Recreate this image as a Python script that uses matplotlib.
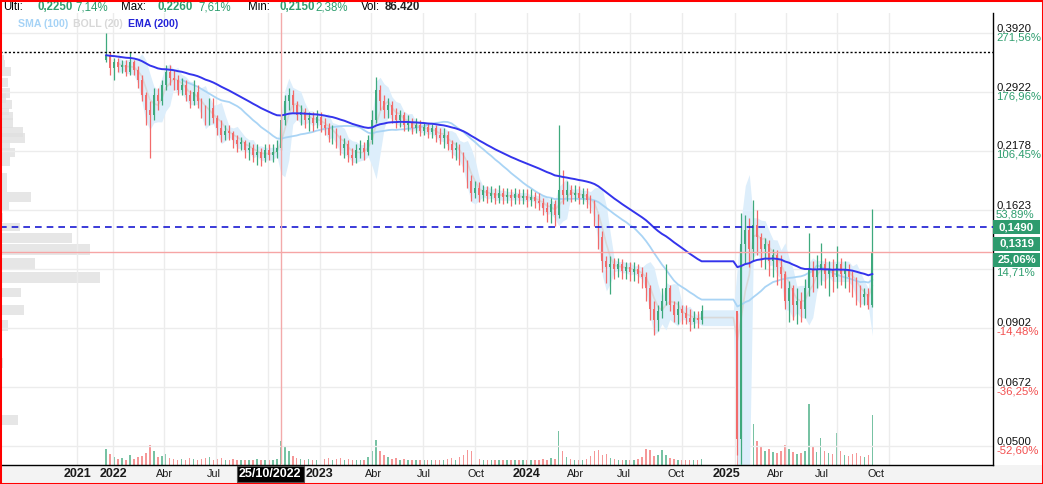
import numpy as np
import pandas as pd
import matplotlib
matplotlib.use("Agg")
import matplotlib.pyplot as plt
import matplotlib.dates as mdates
import matplotlib.transforms as mtransforms
from matplotlib.patches import Rectangle
from matplotlib.ticker import NullLocator

plt.rcParams['font.family'] = ['Liberation Sans', 'DejaVu Sans']

# ---------------- data (weekly) ----------------
first_week = "2021-12-20"
first_open = 0.343

close = [
    0.351, 0.329, 0.339, 0.331, 0.334, 0.323, 0.339, 0.326, 0.310, 0.288,
    0.267, 0.260, 0.288, 0.280, 0.303, 0.323, 0.313, 0.310, 0.295, 0.303,
    0.288, 0.280, 0.292, 0.280, 0.264, 0.254, 0.270, 0.257, 0.244, 0.236,
    0.241, 0.238, 0.230, 0.225, 0.228, 0.219, 0.221, 0.214, 0.217, 0.210,
    0.219, 0.214, 0.217, 0.221, 0.254, 0.280, 0.288, 0.274, 0.260, 0.264,
    0.254, 0.257, 0.251, 0.258, 0.248, 0.244, 0.236, 0.241, 0.228, 0.221,
    0.225, 0.214, 0.210, 0.219, 0.221, 0.217, 0.230, 0.254, 0.295, 0.280,
    0.267, 0.274, 0.260, 0.254, 0.260, 0.248, 0.251, 0.244, 0.248, 0.241,
    0.245, 0.239, 0.244, 0.236, 0.232, 0.236, 0.225, 0.219, 0.221, 0.210,
    0.203, 0.188, 0.177, 0.181, 0.175, 0.179, 0.174, 0.177, 0.172, 0.177,
    0.173, 0.175, 0.172, 0.176, 0.172, 0.174, 0.171, 0.173, 0.170, 0.168,
    0.164, 0.161, 0.167, 0.158, 0.179, 0.175, 0.179, 0.175, 0.177, 0.172,
    0.176, 0.171, 0.167, 0.158, 0.142, 0.126, 0.122, 0.124, 0.121, 0.124,
    0.120, 0.122, 0.119, 0.121, 0.118, 0.116, 0.110, 0.099, 0.094, 0.098,
    0.103, 0.110, 0.101, 0.096, 0.099, 0.097, 0.095, 0.093, 0.095, 0.094,
    0.098,
    None, None, None, None, None, None, None, None,
    0.052, 0.137, 0.147, 0.134, 0.151, 0.142, 0.134, 0.137, 0.126, 0.130,
    0.122, 0.118, 0.103, 0.110, 0.101, 0.103, 0.099, 0.110, 0.121, 0.116,
    0.121, 0.124, 0.118, 0.121, 0.116, 0.124, 0.118, 0.121, 0.116, 0.113,
    0.107, 0.105, 0.107, 0.101, 0.132,
]
high = [
    0.392, 0.357, 0.346, 0.346, 0.343, 0.343, 0.357, 0.343, 0.333, 0.318,
    0.292, 0.280, 0.298, 0.298, 0.310, 0.334, 0.334, 0.326, 0.318, 0.313,
    0.310, 0.295, 0.310, 0.303, 0.284, 0.274, 0.284, 0.284, 0.260, 0.254,
    0.248, 0.248, 0.241, 0.236, 0.234, 0.230, 0.228, 0.225, 0.225, 0.221,
    0.225, 0.225, 0.225, 0.230, 0.260, 0.288, 0.298, 0.295, 0.280, 0.274,
    0.270, 0.264, 0.264, 0.267, 0.264, 0.257, 0.251, 0.248, 0.244, 0.236,
    0.232, 0.230, 0.221, 0.225, 0.230, 0.228, 0.236, 0.267, 0.315, 0.303,
    0.288, 0.284, 0.280, 0.270, 0.267, 0.264, 0.260, 0.257, 0.257, 0.254,
    0.251, 0.251, 0.249, 0.248, 0.244, 0.244, 0.241, 0.230, 0.228, 0.225,
    0.217, 0.208, 0.193, 0.188, 0.187, 0.184, 0.183, 0.183, 0.181, 0.184,
    0.181, 0.181, 0.180, 0.181, 0.180, 0.180, 0.180, 0.180, 0.178, 0.177,
    0.172, 0.169, 0.172, 0.171, 0.248, 0.198, 0.188, 0.184, 0.184, 0.183,
    0.181, 0.181, 0.175, 0.171, 0.159, 0.146, 0.129, 0.129, 0.128, 0.128,
    0.127, 0.125, 0.125, 0.125, 0.124, 0.122, 0.119, 0.112, 0.103, 0.101,
    0.110, 0.124, 0.112, 0.103, 0.103, 0.101, 0.101, 0.099, 0.098, 0.098,
    0.101,
    None, None, None, None, None, None, None, None,
    0.097, 0.160, 0.158, 0.156, 0.171, 0.162, 0.145, 0.141, 0.140, 0.134,
    0.133, 0.130, 0.120, 0.114, 0.112, 0.110, 0.108, 0.115, 0.145, 0.126,
    0.130, 0.138, 0.128, 0.126, 0.127, 0.136, 0.128, 0.126, 0.124, 0.120,
    0.116, 0.112, 0.110, 0.110, 0.163,
]
low = [
    0.339, 0.318, 0.310, 0.323, 0.321, 0.316, 0.318, 0.318, 0.298, 0.280,
    0.248, 0.210, 0.254, 0.267, 0.274, 0.295, 0.303, 0.295, 0.288, 0.288,
    0.280, 0.270, 0.274, 0.270, 0.257, 0.248, 0.248, 0.251, 0.236, 0.228,
    0.230, 0.230, 0.221, 0.217, 0.219, 0.210, 0.208, 0.206, 0.203, 0.202,
    0.206, 0.208, 0.206, 0.210, 0.219, 0.248, 0.267, 0.264, 0.254, 0.248,
    0.244, 0.241, 0.241, 0.244, 0.239, 0.236, 0.228, 0.225, 0.221, 0.214,
    0.210, 0.206, 0.203, 0.205, 0.210, 0.208, 0.214, 0.225, 0.251, 0.267,
    0.257, 0.257, 0.251, 0.244, 0.246, 0.241, 0.241, 0.237, 0.238, 0.235,
    0.236, 0.232, 0.232, 0.228, 0.225, 0.221, 0.219, 0.210, 0.208, 0.203,
    0.196, 0.181, 0.170, 0.172, 0.169, 0.170, 0.168, 0.169, 0.167, 0.168,
    0.167, 0.168, 0.166, 0.167, 0.167, 0.167, 0.165, 0.166, 0.164, 0.162,
    0.158, 0.153, 0.152, 0.150, 0.156, 0.167, 0.170, 0.169, 0.170, 0.167,
    0.167, 0.164, 0.160, 0.150, 0.134, 0.119, 0.113, 0.107, 0.115, 0.116,
    0.115, 0.115, 0.114, 0.114, 0.113, 0.110, 0.103, 0.094, 0.087, 0.089,
    0.095, 0.101, 0.098, 0.093, 0.092, 0.092, 0.092, 0.089, 0.090, 0.090,
    0.092,
    None, None, None, None, None, None, None, None,
    0.048, 0.044, 0.124, 0.122, 0.126, 0.130, 0.122, 0.121, 0.117, 0.116,
    0.112, 0.110, 0.099, 0.093, 0.094, 0.092, 0.093, 0.095, 0.106, 0.108,
    0.110, 0.112, 0.110, 0.106, 0.108, 0.110, 0.112, 0.110, 0.108, 0.105,
    0.101, 0.100, 0.101, 0.099, 0.100,
]
volume = [  # thousands of shares per week
    180, 120, 90, 70, 80, 60, 110, 70, 90, 100,
    130, 220, 150, 90, 100, 120, 80, 70, 60, 70,
    60, 80, 70, 60, 70, 80, 90, 60, 70, 80,
    50, 60, 70, 60, 50, 60, 50, 60, 70, 60,
    50, 60, 50, 70, 260, 200, 150, 100, 80, 70,
    60, 70, 60, 50, 60, 70, 80, 60, 70, 80,
    60, 70, 60, 60, 50, 60, 90, 160, 280, 150,
    110, 90, 70, 80, 60, 70, 60, 60, 50, 60,
    50, 60, 50, 60, 60, 50, 70, 80, 60, 90,
    110, 170, 150, 90, 70, 60, 60, 50, 60, 50,
    50, 60, 50, 60, 50, 50, 60, 50, 50, 60,
    70, 60, 80, 70, 380, 150, 90, 70, 60, 60,
    60, 70, 100, 160, 170, 110, 120, 80, 70, 60,
    60, 60, 50, 60, 70, 90, 180, 170, 100, 110,
    170, 110, 80, 70, 60, 60, 50, 60, 60, 60,
    70,
    0, 0, 0, 0, 0, 0, 0, 0,
    1100, 1350, 700, 420, 450, 260, 200, 150, 180, 140,
    130, 150, 220, 180, 140, 120, 130, 160, 680, 200,
    140, 300, 150, 130, 120, 350, 150, 110, 100, 120,
    130, 100, 90, 110, 550,
]

# volume-at-price profile (left side)
profile_low = [0.343, 0.331, 0.316, 0.299, 0.284, 0.277, 0.268, 0.261, 0.254, 0.244,
               0.234, 0.227, 0.219, 0.211, 0.202, 0.186, 0.178, 0.169, 0.162, 0.153,
               0.146, 0.138, 0.130, 0.121, 0.113, 0.105, 0.096, 0.089, 0.074, 0.0557]
profile_high = [0.351, 0.343, 0.331, 0.314, 0.298, 0.292, 0.281, 0.270, 0.264, 0.257,
                0.246, 0.238, 0.230, 0.221, 0.211, 0.195, 0.186, 0.178, 0.169, 0.160,
                0.152, 0.145, 0.137, 0.128, 0.119, 0.110, 0.101, 0.094, 0.0775, 0.0585]
profile_vol = [4, 5, 11, 8, 10, 6, 12, 9, 13, 13,
               23, 25, 10, 15, 10, 7, 7, 31, 9, 3,
               20, 72, 90, 35, 100, 21, 24, 8, 3, 18]

y_ticks = [0.0500, 0.0672, 0.0902, 0.1210, 0.1623, 0.2178, 0.2922, 0.3920]
y_tick_text = ["0,0500", "0,0672", "0,0902", "", "0,1623", "0,2178", "0,2922", "0,3920"]
pct_text = ["-52,60%", "-36,25%", "-14,48%", "14,71%", "53,89%", "106,45%", "176,96%", "271,56%"]

dotted_level = 0.357
alert_level = 0.1490
alert_text = "0,1490"
last_level = 0.1319
last_text = "0,1319"
last_pct = "25,06%"

crosshair_date = "2022-10-25"
crosshair_text = "25/10/2022"
crosshair_label_date = "2022-10-05"

grid_dates = ["2021-10-29", "2022-01-01", "2022-04-01", "2022-07-01", "2022-10-01",
              "2023-01-01", "2023-04-01", "2023-07-01", "2023-10-01",
              "2024-01-01", "2024-04-01", "2024-07-01", "2024-10-01",
              "2025-01-01", "2025-04-01", "2025-07-01", "2025-10-01"]
x_label_text = ["2021", "2022", "Abr", "Jul", "2023", "Abr", "Jul", "Oct",
                "2024", "Abr", "Jul", "Oct", "2025", "Abr", "Jul", "Oct"]
x_label_date = ["2021-10-31", "2022-01-01", "2022-04-01", "2022-06-28",
                "2023-01-01", "2023-04-06", "2023-07-03", "2023-10-03",
                "2024-01-01", "2024-03-27", "2024-06-20", "2024-09-20",
                "2024-12-17", "2025-03-15", "2025-06-04", "2025-09-07"]

header_items = [("Ulti:", "black", "normal"), ("0,2250", "#2f9e6f", "bold"), ("7,14%", "#2f9e6f", "normal"),
                ("Max:", "black", "normal"), ("0,2260", "#2f9e6f", "bold"), ("7,61%", "#2f9e6f", "normal"),
                ("Min:", "black", "normal"), ("0,2150", "#2f9e6f", "bold"), ("2,38%", "#2f9e6f", "normal"),
                ("Vol:", "black", "normal"), ("86.420", "#222222", "bold")]
header_x = [3, 38, 75, 121, 157, 198, 248, 280, 315, 361, 385]

legend_items = [("SMA (100)", "#a6d3f6"), ("BOLL (20)", "#d8d8d8"), ("EMA (200)", "#2424d8")]
legend_x = [18, 73, 128]

# ---------------- colours ----------------
GREEN = "#3ea97d"
RED = "#f26b6b"
GRID = "#ececec"

W, H = 1043, 484
fig = plt.figure(figsize=(W / 100, H / 100), dpi=100)
fig.patch.set_facecolor("white")

ax_left, ax_right, ax_top, ax_bottom = 0, 993, 13, 465
ax = fig.add_axes([ax_left / W, 1 - ax_bottom / H, (ax_right - ax_left) / W, (ax_bottom - ax_top) / H])
ax_v = ax.twinx()
ax_p = ax.twiny()
ax.set_zorder(3)
ax.patch.set_visible(False)
ax_v.set_zorder(1)
ax_p.set_zorder(2)

# ---------------- series ----------------
n = len(close)
dates = pd.date_range(first_week, periods=n, freq="7D")
c = np.array([np.nan if v is None else v for v in close], float)
hh = np.array([np.nan if v is None else v for v in high], float)
ll = np.array([np.nan if v is None else v for v in low], float)
vol = np.array(volume, float)
o = np.full(n, np.nan)
prev = first_open
for i in range(n):
    if np.isnan(c[i]):
        continue
    o[i] = prev
    prev = c[i]

mask = ~np.isnan(c)
up = c >= o
cols = np.where(up, GREEN, RED)

s = pd.Series(c, index=dates)
valid = s.dropna()
ema = valid.ewm(span=40, adjust=False).mean().reindex(dates).ffill()
sma = valid.rolling(20).mean().reindex(dates).ffill()
mid = valid.rolling(4).mean()
sd = valid.rolling(4).std(ddof=0)
upper = (mid + 2 * sd).reindex(dates).ffill()
lower = (mid - 2 * sd).clip(lower=0.01).reindex(dates).ffill()
mid = mid.reindex(dates).ffill()

xd = mdates.date2num(dates)

# Bollinger band
ax.fill_between(xd, lower.values, upper.values, color="#ddeefb", lw=0, zorder=1)
ax.plot(xd, mid.values, color="#d9d9d9", lw=1.2, zorder=2)
ax.plot(xd, sma.values, color="#a9d4f5", lw=1.3, zorder=3)

# candles
ax.vlines(xd[mask], ll[mask], hh[mask], colors=cols[mask], lw=0.9, zorder=4)
body_h = np.maximum(np.abs(c - o), 0.006 * c)
ax.bar(xd[mask], body_h[mask], bottom=np.minimum(o, c)[mask], width=3.2,
       color=cols[mask], linewidth=0, zorder=5)

ax.plot(xd, ema.values, color="#3434ec", lw=1.4, zorder=6)

# reference lines
ax.axhline(dotted_level, color="black", lw=1.0, ls=(0, (1.5, 1.5)), zorder=7)
ax.axhline(alert_level, color="#1a1ad2", lw=1.2, ls=(0, (4, 3)), zorder=7)
ax.axhline(last_level, color="#f6a5a5", lw=1.0, zorder=7)
ax.axvline(mdates.date2num(pd.Timestamp(crosshair_date)), color="#f3aaaa", lw=1.0, zorder=7)

# volume
ax_v.bar(xd[mask], vol[mask], width=2.6, color=cols[mask], alpha=0.7, linewidth=0)
ax_v.set_ylim(0, 5000)
ax_v.axis("off")

# profile
pl = np.array(profile_low)
ph = np.array(profile_high)
ax_p.barh(pl, profile_vol, height=ph - pl, align="edge", left=0, color="#e0e0e0", alpha=0.8, linewidth=0)
ax_p.set_xlim(0, max(profile_vol) * 9.93)
ax_p.axis("off")

# axes setup
ax.set_yscale("log")
ax.set_ylim(0.04558, 0.4331)
x0 = mdates.date2num(pd.Timestamp("2022-01-01")) - 199.3
x1 = mdates.date2num(pd.Timestamp("2022-01-01")) + 1551.8
ax.set_xlim(x0, x1)
ax_v.set_xlim(x0, x1)
ax.set_yticks(y_ticks)
ax.yaxis.set_minor_locator(NullLocator())
ax.set_xticks([mdates.date2num(pd.Timestamp(d)) for d in grid_dates])
ax.xaxis.set_minor_locator(NullLocator())
ax.tick_params(length=0, labelleft=False, labelbottom=False, labelright=False)
ax.grid(True, color=GRID, lw=1.0, zorder=0)
ax.set_axisbelow(True)
for side in ["left", "top"]:
    ax.spines[side].set_visible(False)
for side in ["right", "bottom"]:
    ax.spines[side].set_color("black")
    ax.spines[side].set_linewidth(1.0)

# right labels
ytrans = mtransforms.blended_transform_factory(ax.transAxes, ax.transData)
t_up = mtransforms.offset_copy(ytrans, fig=fig, x=0, y=0, units="dots")
t_dn = mtransforms.offset_copy(ytrans, fig=fig, x=0, y=1, units="dots")
xr = 996 / 993
for v, pt, pc in zip(y_ticks, y_tick_text, pct_text):
    if pt:
        ax.text(xr, v, pt, transform=t_up, ha="left", va="bottom", fontsize=8.2, color="#111111", clip_on=False)
    ax.text(xr, v, pc, transform=t_dn, ha="left", va="top", fontsize=8.2,
            color="#2f9e6f" if not pc.startswith("-") else "#f25050", clip_on=False)

# right boxes (positions via the price scale)
def fig_y(price):
    return ax.transData.transform((x0, price))[1]

def box(ycen_px, text):
    r = Rectangle((993 / W, (ycen_px - 7) / H), 47 / W, 14 / H, transform=fig.transFigure,
                  facecolor="#2e9b6e", edgecolor="none", zorder=20)
    fig.patches.append(r)
    fig.text(1016.5 / W, ycen_px / H, text, ha="center", va="center", color="white",
             fontsize=8.2, fontweight="bold", zorder=21)

box(fig_y(alert_level), alert_text)
yl = fig_y(last_level)
box(yl + 8, last_text)
box(yl - 8, last_pct)

# x labels
xtrans = mtransforms.blended_transform_factory(ax.transData, ax.transAxes)
t_x = mtransforms.offset_copy(xtrans, fig=fig, x=0, y=-9, units="dots")
for lab, d in zip(x_label_text, x_label_date):
    bold = lab.isdigit()
    ax.text(mdates.date2num(pd.Timestamp(d)), 0, lab, transform=t_x, ha="center", va="center",
            fontsize=9 if bold else 7.8, fontweight="bold" if bold else "normal",
            color="#1a1a1a", clip_on=False)
ax.text(mdates.date2num(pd.Timestamp(crosshair_label_date)), 0, crosshair_text, transform=t_x,
        ha="center", va="center", fontsize=9, fontweight="bold", color="white", clip_on=False,
        zorder=30, bbox=dict(boxstyle="square,pad=0.18", facecolor="black", edgecolor="#555555", lw=0.8))

# bottom band
fig.patches.append(Rectangle((0, 0), 1, (H - ax_bottom) / H, transform=fig.transFigure,
                             facecolor="#f3f3f3", edgecolor="none", zorder=-5))

# header
for (txt, col, wt), xp in zip(header_items, header_x):
    fig.text(xp / W, 1 - 7.5 / H, txt, ha="left", va="center", fontsize=8.3, color=col, fontweight=wt)

# legend
for (txt, col), xp in zip(legend_items, legend_x):
    fig.text(xp / W, 1 - 24 / H, txt, ha="left", va="center", fontsize=7.6, color=col,
             fontweight="bold", zorder=25)

# red frame
fig.patches.append(Rectangle((0, 0), 1, 1, transform=fig.transFigure, fill=False,
                             edgecolor="#ff0000", lw=2.2, zorder=40))

fig.savefig("out.png", dpi=100)
